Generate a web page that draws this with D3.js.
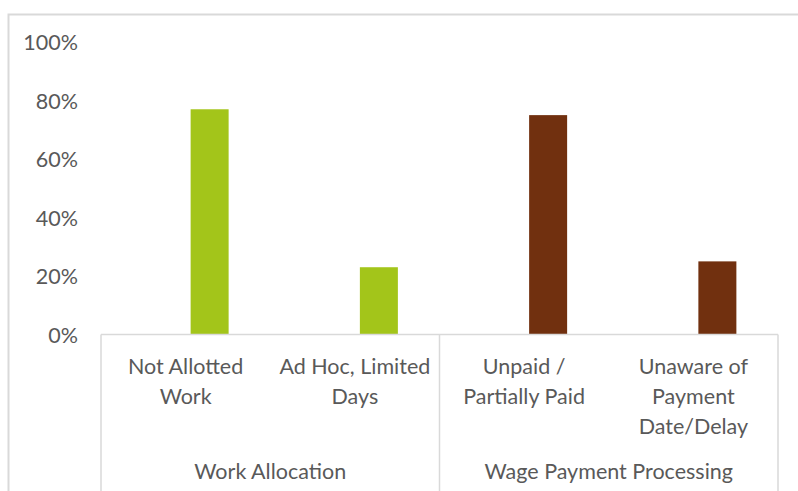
<!DOCTYPE html>
<html><head><meta charset="utf-8">
<script src="https://cdn.jsdelivr.net/npm/d3@7"></script>
<style>body{margin:0;background:#fff}svg{display:block}</style>
</head><body>
<script>
const groups = ["Work Allocation", "Wage Payment Processing"];
const categories = [
  ["Not Allotted", "Work"],
  ["Ad Hoc, Limited", "Days"],
  ["Unpaid /", "Partially Paid"],
  ["Unaware of", "Payment", "Date/Delay"]
];
const categoryGroup = [0, 0, 1, 1];
const values = [0.77, 0.23, 0.75, 0.25];
const yTicks = [0, 0.2, 0.4, 0.6, 0.8, 1.0];
const groupColors = ["#A3C51A", "#71300F"];

(function () {
const W = 798, H = 491;
const svg = d3.select("body").append("svg").attr("width", W).attr("height", H);
const font = "Lato, sans-serif";
const fs = 21.5;
const textColor = "#595959", lineColor = "#D9D9D9";

// outer chart border
svg.append("rect").attr("x", 8.5).attr("y", 14.5).attr("width", 820).attr("height", 500)
  .attr("fill", "none").attr("stroke", lineColor).attr("stroke-width", 2);

const pLeft = 101, pRight = 778, pTop = 42, base = 334.5;
const x = d3.scaleBand().domain(d3.range(categories.length)).range([pLeft, pRight]).paddingInner(0).paddingOuter(0);
const y = d3.scaleLinear().domain([0, 1]).range([base, pTop]);
const barW = 38, barOffset = 24;

svg.selectAll("rect.bar").data(values).enter().append("rect")
  .attr("class", "bar")
  .attr("x", (d, i) => x(i) + x.bandwidth() / 2 + barOffset - barW / 2)
  .attr("width", barW)
  .attr("y", d => y(d))
  .attr("height", d => base - y(d))
  .attr("fill", (d, i) => groupColors[categoryGroup[i]]);

// y axis labels
const yAxis = d3.axisLeft(y).tickValues(yTicks).tickFormat(d3.format(".0%")).tickSize(0).tickPadding(0);
const ya = svg.append("g").attr("transform", "translate(78,0)").call(yAxis);
ya.select(".domain").remove();
ya.selectAll("text").attr("font-family", font).attr("font-size", fs).attr("fill", textColor).attr("dy", "0.35em");

// baseline
svg.append("line").attr("x1", pLeft).attr("x2", pRight).attr("y1", base).attr("y2", base)
  .attr("stroke", lineColor).attr("stroke-width", 1.5);

// group dividers
const groupBounds = [pLeft];
groups.forEach((g, gi) => {
  const idx = categoryGroup.map((v, i) => v === gi ? i : -1).filter(i => i >= 0);
  groupBounds.push(x(idx[idx.length - 1]) + x.bandwidth());
});
svg.selectAll("line.div").data(groupBounds).enter().append("line")
  .attr("x1", d => d).attr("x2", d => d).attr("y1", base).attr("y2", H + 5)
  .attr("stroke", lineColor).attr("stroke-width", 1.5);

// category labels
categories.forEach((lines, i) => {
  const t = svg.append("text").attr("font-family", font).attr("font-size", fs).attr("fill", textColor)
    .attr("text-anchor", "middle");
  lines.forEach((ln, k) => {
    t.append("tspan").attr("x", x(i) + x.bandwidth() / 2).attr("y", 366 + k * 30).attr("dy", "0.35em").text(ln);
  });
});

// group labels
groups.forEach((g, gi) => {
  svg.append("text").attr("x", (groupBounds[gi] + groupBounds[gi + 1]) / 2).attr("y", 471).attr("dy", "0.35em")
    .attr("font-family", font).attr("font-size", fs).attr("fill", textColor).attr("text-anchor", "middle").text(g);
});
})();
</script>
</body></html>
